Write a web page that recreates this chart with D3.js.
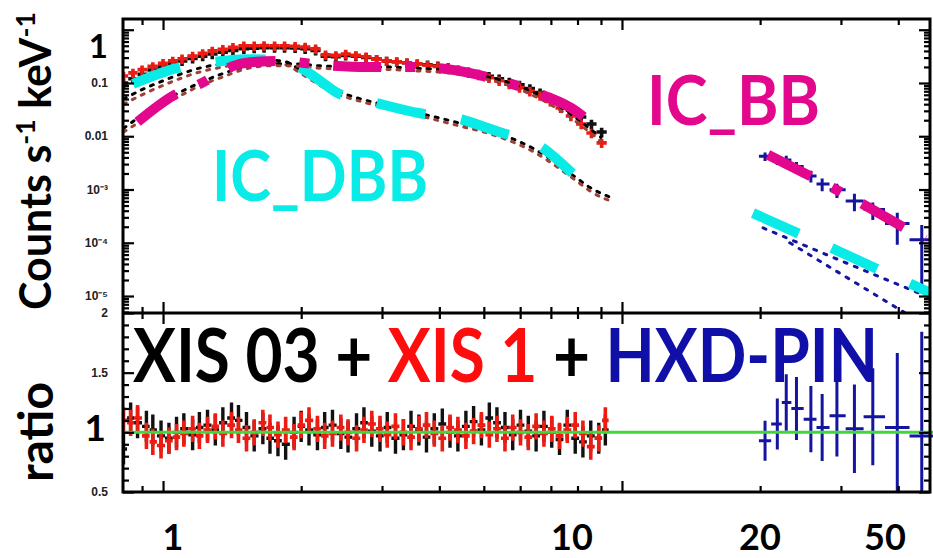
<!DOCTYPE html>
<html>
<head>
<meta charset="utf-8">
<script src="https://cdn.jsdelivr.net/npm/d3@7"></script>
<style>
  body { margin: 0; background: #fff; }
  svg { display: block; }
  .note { font-family: Lato, 'Open Sans', sans-serif; font-weight: 700; }
  .tick-label { font-family: 'Liberation Sans', Arial, sans-serif; font-weight: 700; font-size: 12px; fill: #222; }
</style>
</head>
<body>
<svg id="chart" width="933" height="558"></svg>
<script>
// XIS spectra (counts s^-1 keV^-1)
const xisE = [0.82, 0.86, 0.90, 0.95, 1.0, 1.05, 1.1, 1.16, 1.22, 1.28, 1.35, 1.42, 1.5, 1.58, 1.66, 1.75,
  1.84, 1.94, 2.04, 2.15, 2.26, 2.38, 2.5, 2.63, 2.77, 2.92, 3.07, 3.23, 3.4, 3.58, 3.77, 3.97, 4.18, 4.4,
  4.63, 4.87, 5.13, 5.4, 5.68, 5.98, 6.3, 6.63, 6.98, 7.35, 7.74, 8.15, 8.58, 9.03];
const xis03 = [0.10, 0.12, 0.145, 0.175, 0.20, 0.23, 0.26, 0.29, 0.32, 0.35, 0.38, 0.41, 0.44, 0.45, 0.46, 0.46,
  0.46, 0.455, 0.44, 0.41, 0.32, 0.31, 0.33, 0.32, 0.30, 0.28, 0.26, 0.25, 0.24, 0.23, 0.22, 0.21, 0.195, 0.178,
  0.162, 0.148, 0.134, 0.12, 0.105, 0.092, 0.079, 0.066, 0.053, 0.041, 0.031, 0.023, 0.017, 0.012];
const xis1 = [0.135, 0.155, 0.178, 0.205, 0.235, 0.26, 0.285, 0.32, 0.36, 0.40, 0.43, 0.47, 0.50, 0.50, 0.505, 0.50,
  0.50, 0.49, 0.475, 0.44, 0.34, 0.33, 0.35, 0.33, 0.31, 0.28, 0.26, 0.25, 0.24, 0.23, 0.215, 0.205, 0.19, 0.17,
  0.155, 0.14, 0.125, 0.11, 0.095, 0.082, 0.07, 0.058, 0.045, 0.034, 0.024, 0.017, 0.0115, 0.0075];
const xisErr = 0.2;

// XIS data / model ratio
const ratioE = [0.82, 0.85, 0.88, 0.92, 0.95, 0.99, 1.03, 1.07, 1.11, 1.16, 1.2, 1.25, 1.3, 1.35, 1.41, 1.46,
  1.52, 1.58, 1.65, 1.71, 1.78, 1.85, 1.93, 2.0, 2.08, 2.17, 2.25, 2.34, 2.44, 2.53, 2.64, 2.74, 2.85, 2.97,
  3.08, 3.21, 3.34, 3.47, 3.61, 3.75, 3.9, 4.06, 4.22, 4.39, 4.57, 4.75, 4.94, 5.14, 5.34, 5.56, 5.78, 6.01,
  6.25, 6.5, 6.76, 7.03, 7.31, 7.6, 7.91, 8.22, 8.55, 8.9, 9.2];
const ratio03 = [0.86, 1.12, 1.08, 1.05, 1.02, 0.97, 0.95, 1.0, 1.03, 0.98,
  1.04, 1.06, 1.02, 1.08, 1.12, 1.10, 1.04, 0.97, 1.03, 0.95,
  0.93, 0.90, 1.0, 1.05, 1.02, 0.98, 1.04, 1.06, 0.99, 0.96,
  1.03, 1.08, 1.01, 0.97, 1.04, 0.95, 0.98, 1.05, 1.02, 0.96,
  1.03, 1.07, 1.0, 0.97, 1.05, 1.09, 1.02, 1.12, 1.08, 1.04,
  0.98, 1.06, 1.01, 0.97, 1.05, 1.0, 0.94, 1.06, 0.95, 0.92,
  0.97, 0.95, 1.02];
const ratio1 = [1.1, 1.08, 1.12, 0.97, 0.92, 0.89, 0.93, 0.96, 0.99, 1.03,
  0.97, 1.02, 1.05, 0.99, 1.06, 1.02, 0.95, 1.0, 1.08, 1.04,
  0.98, 1.02, 0.96, 1.06, 1.1, 1.03, 0.97, 0.99, 1.04, 1.0,
  0.95, 1.02, 1.07, 1.03, 0.98, 1.05, 1.0, 0.96, 1.03, 1.06,
  0.99, 0.95, 1.04, 1.02, 0.97, 1.01, 1.06, 0.98, 1.03, 0.95,
  1.04, 1.0, 0.96, 1.05, 0.99, 1.03, 0.97, 1.02, 1.06, 0.99,
  0.88, 0.95, 1.1];
const ratio03Err = 0.13;
const ratio1Err = 0.11;

// HXD-PIN
const pinE = [20.5, 21.8, 22.8, 24.0, 25.8, 27.3, 29.4, 32.1, 35.2, 39.8, 45.0];
const pinCounts = [0.0042, 0.0036, 0.0036, 0.0027, 0.0018, 0.00127, 0.00099, 0.00061, 0.00042, 0.00023, 0.000114];
const pinRatio = [0.93, 1.07, 1.25, 1.2, 1.11, 1.04, 1.14, 1.03, 1.13, 1.04, 0.97];
const pinErr = [0.18, 0.2, 0.19, 0.22, 0.25, 0.27, 0.3, 0.36, 0.36, 0.6, 0.9];

// highlighted model components
const dbbE = [0.86, 1.07, 1.3, 1.5, 1.8, 2.0, 2.2, 2.4, 2.86, 3.63, 4.33, 5.47, 6.45, 7.8];
const dbbV = [0.096, 0.19, 0.25, 0.28, 0.27, 0.19, 0.11, 0.065, 0.044, 0.027, 0.022, 0.0116, 0.0075, 0.0020];
const dbbHiE = [19.3, 24.2, 28.4, 35.5, 41.9, 46.9];
const dbbHiV = [3.6e-4, 1.5e-4, 8.2e-5, 3.4e-5, 1.8e-5, 1.15e-5];
const bbE = [0.88, 1.06, 1.2, 1.45, 1.6, 1.8, 2.2, 2.8, 3.5, 4.2, 5.37, 6.7, 7.97, 8.3, 9.0];
const bbV = [0.0186, 0.06, 0.095, 0.22, 0.25, 0.26, 0.22, 0.20, 0.20, 0.18, 0.114, 0.06, 0.029, 0.022, 0.012];
const bbHiE = [20.8, 30.3, 45.7];
const bbHiV = [0.0045, 0.00085, 0.000114];

// dotted model components (XIS 03 black, XIS 1 brown, PIN navy)
const dbbDotE = [0.82, 0.9, 1.0, 1.1, 1.2, 1.35, 1.5, 1.7, 1.85, 2.0, 2.2, 2.4, 2.7, 3.0, 3.5, 4.0, 4.5, 5.0,
  5.5, 6.0, 6.5, 7.0, 7.5, 8.0, 8.5, 9.0, 9.5];
const dbb03 = [0.05, 0.075, 0.11, 0.15, 0.19, 0.23, 0.26, 0.27, 0.25, 0.17, 0.10, 0.07, 0.05, 0.040, 0.029, 0.022,
  0.017, 0.0135, 0.0105, 0.0078, 0.0055, 0.0037, 0.0024, 0.0016, 0.0011, 0.00085, 0.0007];
const dbb1 = [0.04, 0.06, 0.09, 0.125, 0.16, 0.2, 0.23, 0.24, 0.22, 0.15, 0.09, 0.062, 0.045, 0.036, 0.026, 0.0195,
  0.015, 0.012, 0.0092, 0.0068, 0.0048, 0.0032, 0.0021, 0.0014, 0.00095, 0.00072, 0.0006];
const bbDotE = [0.82, 0.9, 1.0, 1.1, 1.2, 1.35, 1.5, 1.7, 1.9, 2.2, 2.6, 3.0, 3.5, 4.0, 4.5, 5.0, 5.5, 6.0, 6.5,
  7.0, 7.5, 8.0, 8.5, 9.0];
const bb03 = [0.014, 0.025, 0.045, 0.07, 0.10, 0.15, 0.2, 0.23, 0.23, 0.21, 0.2, 0.2, 0.19, 0.18, 0.16, 0.135,
  0.11, 0.085, 0.063, 0.045, 0.031, 0.021, 0.014, 0.0095];
const bb1 = [0.012, 0.02, 0.038, 0.06, 0.088, 0.13, 0.18, 0.21, 0.21, 0.19, 0.18, 0.18, 0.17, 0.16, 0.145, 0.12,
  0.098, 0.075, 0.055, 0.039, 0.027, 0.018, 0.012, 0.008];
const pinDot1E = [20.3, 30, 46.9];
const pinDot1V = [1.9e-4, 4.6e-5, 9.3e-6];
const pinDot2E = [23.2, 30, 44];
const pinDot2V = [1.0e-4, 2.6e-5, 3.5e-6];

// tick labels
const countTicks = [0.1, 0.01, 1e-3, 1e-4, 1e-5];
const countTickLabels = ['0.1', '0.01', '10\u207B\u00B3', '10\u207B\u2074', '10\u207B\u2075'];
const ratioTicks = [2, 1.5, 0.5];
const ratioTickLabels = ['2', '1.5', '0.5'];
const energyLabels = ['1', '10', '20', '50'];

// layout
const pLeft = 123, pRight = 930, pTop = 19, pSplit = 313, pBottom = 492;
const energyLabelX = [173, 572, 760, 885];

const colors = {
  xis03: '#111', xis1: '#ee1b12', pin: '#1414a0', brown: '#9c4038',
  cyan: '#08ebe6', magenta: '#e2078c', green: '#3fd83a', navyText: '#1010a8'
};

const svg = d3.select('#chart');

const x = d3.scaleLog().domain([0.818, 46.9]).range([pLeft, pRight]);
const yTop = d3.scaleLog().domain([4.8e-6, 1.59]).range([pSplit, pTop]);
const yRat = d3.scaleLinear().domain([0.5, 2]).range([pBottom, pSplit]);

const defs = svg.append('defs');
defs.append('clipPath').attr('id', 'clipTop').append('rect')
  .attr('x', pLeft).attr('y', pTop).attr('width', pRight - pLeft).attr('height', pSplit - pTop);
defs.append('clipPath').attr('id', 'clipRat').append('rect')
  .attr('x', pLeft).attr('y', pSplit).attr('width', pRight - pLeft + 3).attr('height', pBottom - pSplit);

const gTop = svg.append('g').attr('clip-path', 'url(#clipTop)');
const gRat = svg.append('g').attr('clip-path', 'url(#clipRat)');

// bin edges at geometric midpoints between neighbours
function binEdges(es) {
  return es.map((e, i) => {
    const lo = i > 0 ? Math.sqrt(e * es[i - 1]) : e * e / Math.sqrt(e * es[i + 1]);
    const hi = i < es.length - 1 ? Math.sqrt(e * es[i + 1]) : e * e / Math.sqrt(e * es[i - 1]);
    return [lo, hi];
  });
}

function crosses(g, es, vals, y, lo, hi, color, width) {
  const edges = binEdges(es);
  const pts = es.map((e, i) => ({e: e, v: vals[i], b: edges[i], i: i}));
  g.append('g')
    .attr('fill', 'none')
    .attr('stroke', color)
    .attr('stroke-width', width)
    .selectAll('path')
    .data(pts)
    .enter().append('path')
    .attr('d', (d) => 'M' + x(d.b[0]) + ',' + y(d.v) + 'H' + x(d.b[1]) +
      'M' + x(d.e) + ',' + y(lo(d)) + 'V' + y(hi(d)));
}

function curve(g, es, vals, y, color, width, dash, cap) {
  const line = d3.line()
    .x((d) => x(d[0]))
    .y((d) => y(d[1]))
    .curve(d3.curveMonotoneX);
  g.append('path')
    .datum(es.map((e, i) => [e, vals[i]]))
    .attr('d', line)
    .attr('fill', 'none')
    .attr('stroke', color)
    .attr('stroke-width', width)
    .attr('stroke-dasharray', dash)
    .attr('stroke-linecap', cap || 'butt');
}

// spectra
crosses(gTop, xisE, xis03, yTop, (d) => d.v * (1 - xisErr), (d) => d.v * (1 + xisErr), colors.xis03, 3.6);
crosses(gTop, xisE, xis1, yTop, (d) => d.v * (1 - xisErr), (d) => d.v * (1 + xisErr), colors.xis1, 3.6);
crosses(gTop, pinE, pinCounts, yTop, (d) => d.v * (1 - pinErr[d.i]), (d) => d.v * (1 + pinErr[d.i]), colors.pin, 3);

// dotted components
curve(gTop, dbbDotE, dbb03, yTop, '#000', 3, '3 7', 'round');
curve(gTop, dbbDotE, dbb1, yTop, colors.brown, 3, '3 7', 'round');
curve(gTop, bbDotE, bb03, yTop, '#000', 3, '3 7', 'round');
curve(gTop, bbDotE, bb1, yTop, colors.brown, 3, '3 7', 'round');
curve(gTop, pinDot1E, pinDot1V, yTop, colors.pin, 3, '3 8', 'round');
curve(gTop, pinDot2E, pinDot2V, yTop, colors.pin, 3, '3 8', 'round');

// highlighted components
curve(gTop, dbbE, dbbV, yTop, colors.cyan, 10, '50 36');
curve(gTop, dbbHiE, dbbHiV, yTop, colors.cyan, 10, '50 36');
curve(gTop, bbE, bbV, yTop, colors.magenta, 10, '48 24 10 24');
curve(gTop, bbHiE, bbHiV, yTop, colors.magenta, 10, '48 24 10 24');

// ratio panel
crosses(gRat, ratioE, ratio03, yRat, (d) => d.v - ratio03Err, (d) => d.v + ratio03Err, colors.xis03, 3.4);
crosses(gRat, ratioE, ratio1, yRat, (d) => d.v - ratio1Err, (d) => d.v + ratio1Err, colors.xis1, 3.6);
crosses(gRat, pinE, pinRatio, yRat, (d) => d.v * (1 - pinErr[d.i]), (d) => d.v * (1 + pinErr[d.i]), colors.pin, 3);
gRat.append('line')
  .attr('x1', pLeft).attr('x2', pRight + 3)
  .attr('y1', yRat(1)).attr('y2', yRat(1))
  .attr('stroke', colors.green).attr('stroke-width', 3);

// axes: ticks only, all pointing inwards
function logTicks(lo, hi) {
  const t = [];
  for (let p = -6; p <= 1; p++) {
    for (let k = 1; k < 10; k++) {
      const v = +(k * Math.pow(10, p)).toPrecision(3);
      if (v >= lo && v <= hi) t.push({v: v, major: k === 1});
    }
  }
  return t;
}
const yTopTicks = logTicks(4.8e-6, 1.59);
const yTopMinor = yTopTicks.filter((t) => !t.major).map((t) => t.v);
const yTopMajor = yTopTicks.filter((t) => t.major).map((t) => t.v);
const xMinor = [0.9, 2, 3, 4, 5, 6, 7, 8, 9, 20, 30, 40];
const xMajor = [1, 10];
const yRatMinor = [0.6, 0.7, 0.8, 0.9, 1.1, 1.2, 1.3, 1.4, 1.6, 1.7, 1.8, 1.9];
const yRatMajor = [0.5, 1, 1.5, 2];

function ticks(axis, pos, vals, size) {
  svg.append('g')
    .attr('transform', pos)
    .call(axis.tickValues(vals).tickSize(-size).tickFormat(''))
    .call((g) => g.select('.domain').remove())
    .call((g) => g.selectAll('line').attr('stroke', '#000').attr('stroke-width', 2.2));
}

ticks(d3.axisLeft(yTop), `translate(${pLeft},0)`, yTopMinor, 6);
ticks(d3.axisLeft(yTop), `translate(${pLeft},0)`, yTopMajor, 11);
ticks(d3.axisRight(yTop), `translate(${pRight},0)`, yTopMinor, 6);
ticks(d3.axisRight(yTop), `translate(${pRight},0)`, yTopMajor, 11);
ticks(d3.axisLeft(yRat), `translate(${pLeft},0)`, yRatMinor, 6);
ticks(d3.axisLeft(yRat), `translate(${pLeft},0)`, yRatMajor, 11);
ticks(d3.axisRight(yRat), `translate(${pRight},0)`, yRatMinor, 6);
ticks(d3.axisRight(yRat), `translate(${pRight},0)`, yRatMajor, 11);
[[d3.axisTop, pTop], [d3.axisBottom, pSplit], [d3.axisTop, pSplit], [d3.axisBottom, pBottom]].forEach((a) => {
  ticks(a[0](x), `translate(0,${a[1]})`, xMinor, 6);
  ticks(a[0](x), `translate(0,${a[1]})`, xMajor, 11);
});

// frame
svg.append('rect')
  .attr('x', pLeft).attr('y', pTop)
  .attr('width', pRight - pLeft).attr('height', pBottom - pTop)
  .attr('fill', 'none').attr('stroke', '#000').attr('stroke-width', 3);
svg.append('line')
  .attr('x1', pLeft).attr('x2', pRight).attr('y1', pSplit).attr('y2', pSplit)
  .attr('stroke', '#000').attr('stroke-width', 3);

// small tick labels
svg.append('g').selectAll('text')
  .data(countTicks)
  .enter().append('text')
  .attr('class', 'tick-label')
  .attr('x', 108).attr('y', (d) => yTop(d))
  .attr('dy', '0.35em').attr('text-anchor', 'end')
  .text((d, i) => countTickLabels[i]);
svg.append('g').selectAll('text')
  .data(ratioTicks)
  .enter().append('text')
  .attr('class', 'tick-label')
  .attr('x', 108).attr('y', (d) => yRat(d))
  .attr('dy', '0.35em').attr('text-anchor', 'end')
  .text((d, i) => ratioTickLabels[i]);

function fit(t, w) {
  const len = t.node().getComputedTextLength();
  t.attr('font-size', parseFloat(t.attr('font-size')) * w / len);
  return t;
}

// annotation placed at baseline (bx, by), stretched vertically by k
function note(bx, by, k, size) {
  return svg.append('g')
    .attr('transform', `translate(${bx},${by}) scale(1,${k})`)
    .append('text').attr('class', 'note').attr('font-size', size);
}

// big labels
svg.append('text').attr('class', 'note')
  .attr('x', 108).attr('y', 58).attr('text-anchor', 'end').attr('font-size', 33).text('1');
svg.append('text').attr('class', 'note')
  .attr('x', 106).attr('y', 441).attr('text-anchor', 'end').attr('font-size', 37).text('1');
svg.append('g').selectAll('text')
  .data(energyLabels)
  .enter().append('text')
  .attr('class', 'note')
  .attr('x', (d, i) => energyLabelX[i]).attr('y', 550)
  .attr('text-anchor', 'middle').attr('font-size', 36)
  .text((d) => d);

const yLab = svg.append('text').attr('class', 'note')
  .attr('transform', 'translate(51,161) rotate(-90)')
  .attr('text-anchor', 'middle').attr('font-size', 40);
yLab.append('tspan').text('Counts s');
yLab.append('tspan').attr('font-size', '0.62em').attr('baseline-shift', 'super').text('-1');
yLab.append('tspan').text(' keV');
yLab.append('tspan').attr('font-size', '0.62em').attr('baseline-shift', 'super').text('-1');
fit(yLab, 298);

const rLab = svg.append('text').attr('class', 'note')
  .attr('transform', 'translate(53,432) rotate(-90)')
  .attr('text-anchor', 'middle').attr('font-size', 40).text('ratio');
fit(rLab, 100);

const inst = note(133, 382, 1.16, 66);
inst.append('tspan').attr('fill', '#000').text('XIS 03 + ');
inst.append('tspan').attr('fill', '#ff0d0d').text('XIS 1');
inst.append('tspan').attr('fill', '#000').text(' + ');
inst.append('tspan').attr('fill', colors.navyText).text('HXD-PIN');
fit(inst, 745);

fit(note(212, 201, 1.14, 64).attr('fill', colors.cyan).text('IC_DBB'), 216);
fit(note(647, 125, 1.1, 60).attr('fill', colors.magenta).text('IC_BB'), 173);
</script>
</body>
</html>
